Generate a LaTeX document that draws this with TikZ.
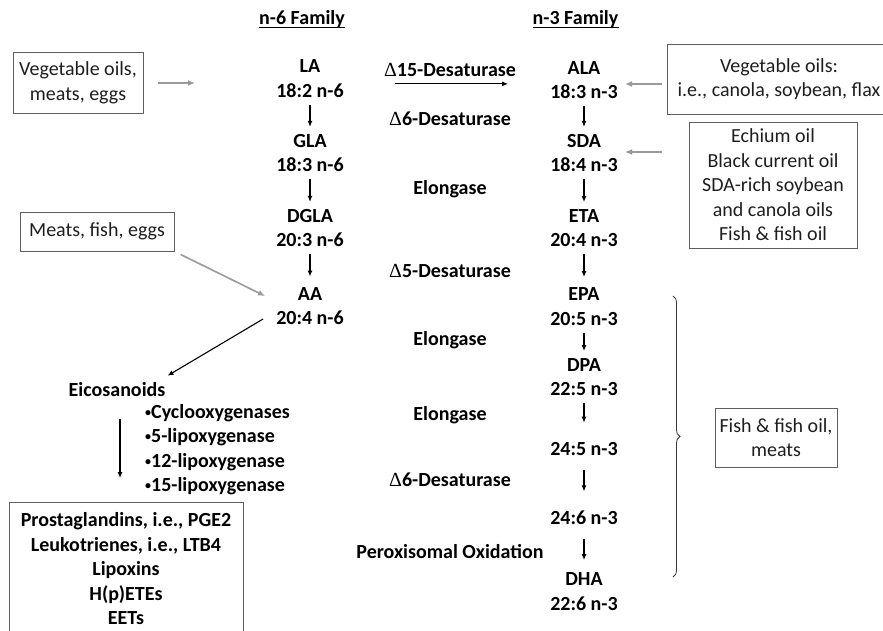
\documentclass[tikz,border=0pt]{standalone}
\usepackage{fontspec}
\setmainfont{Carlito}
\newfontfamily\dfont{Liberation Serif}
\usetikzlibrary{arrows.meta,decorations.pathreplacing}
\definecolor{boxgray}{HTML}{5E5E5E}
\definecolor{srctext}{HTML}{1E1E1E}
\definecolor{arrgray}{HTML}{9A9A9A}
\definecolor{bracegray}{HTML}{3A3A3A}
\newcommand{\fsz}{\fontsize{20pt}{24.5pt}\selectfont}
\newcommand{\dl}{{\dfont\mdseries Δ}}
\newcommand{\bul}{{\fontsize{12pt}{12pt}\selectfont\raisebox{2pt}{•}}}

\begin{document}
\begin{tikzpicture}[x=1pt,y=-1pt,>={Latex[length=6pt,width=5pt]},
  fa/.style={font=\fsz\bfseries,align=center,inner xsep=2pt,inner ysep=7pt},
  enz/.style={font=\fsz\bfseries,inner xsep=2pt,inner ysep=7pt},
  src/.style={draw=boxgray,line width=0.8pt,font=\fsz,text=srctext,align=center,inner sep=0pt},
  conv/.style={->,line width=1.1pt},
  feed/.style={-{Latex[length=7pt,width=6pt]},draw=arrgray,line width=1.6pt}]
  \clip (0,0) rectangle (883,630);
  \node[enz,anchor=base] at (302,24.5) (tsix) {n-6 Family};
  \node[enz,anchor=base] at (575.5,24.5) (tthree) {n-3 Family};
  \draw[line width=1.4pt,shorten <=2pt,shorten >=2pt] ([yshift=-3pt]tsix.base west) -- ([yshift=-3pt]tsix.base east);
  \draw[line width=1.4pt,shorten <=2pt,shorten >=2pt] ([yshift=-3pt]tthree.base west) -- ([yshift=-3pt]tthree.base east);

  \node[fa] at (310,78.5) (la) {LA\\18:2 n-6};
  \node[fa] at (310,153) (gla) {GLA\\18:3 n-6};
  \node[fa] at (310,228) (dgla) {DGLA\\20:3 n-6};
  \node[fa] at (310,306) (aa) {AA\\20:4 n-6};

  \node[fa] at (584,80) (ala) {ALA\\18:3 n-3};
  \node[fa] at (584,153) (sda) {SDA\\18:4 n-3};
  \node[fa] at (584,228) (eta) {ETA\\20:4 n-3};
  \node[fa] at (584,306.5) (epa) {EPA\\20:5 n-3};
  \node[fa] at (584,377) (dpa) {DPA\\22:5 n-3};
  \node[fa] at (584,449) (tfive) {24:5 n-3};
  \node[fa] at (584,518) (tsixb) {24:6 n-3};
  \node[fa] at (584,591.5) (dha) {DHA\\22:6 n-3};

  \node[enz] at (450,70) (dfifteen) {\dl15-Desaturase};
  \node[enz] at (450,119) (dsixa) {\dl6-Desaturase};
  \node[enz] at (450,189) (eloa) {Elongase};
  \node[enz] at (450,271) (dfive) {\dl5-Desaturase};
  \node[enz] at (450,340) (elob) {Elongase};
  \node[enz] at (450,415) (eloc) {Elongase};
  \node[enz] at (450,480) (dsixb) {\dl6-Desaturase};
  \node[enz] at (450,552) (perox) {Peroxisomal Oxidation};

  \node[src,minimum width=130pt,minimum height=61pt] at (78,83) (vegsix) {Vegetable oils,\\meats, eggs};
  \node[src,minimum width=154pt,minimum height=39pt] at (97,231.5) (meatsix) {Meats, fish, eggs};
  \node[src,minimum width=224pt,minimum height=70pt] at (779,79) (vegthree) {Vegetable oils:\\i.e., canola, soybean, flax};
  \node[src,minimum width=168pt,minimum height=126pt] at (773,185) (echium) {Echium oil\\Black current oil\\SDA-rich soybean\\and canola oils\\Fish \& fish oil};
  \node[src,minimum width=122pt,minimum height=59pt] at (776,437.5) (fishbox) {Fish \& fish oil,\\meats};

  \node[enz] at (117,390) (eico) {Eicosanoids};
  \node[font=\fsz\bfseries,align=left,anchor=west,inner sep=0pt] at (145,449.5) (enzlist) {\bul Cyclooxygenases\\\bul 5-lipoxygenase\\\bul 12-lipoxygenase\\\bul 15-lipoxygenase};
  \node[src,font=\fsz\bfseries,text=black,minimum width=234pt,anchor=north,inner ysep=10.5pt] at (126,502) (prods) {Prostaglandins, i.e., PGE2\\Leukotrienes, i.e., LTB4\\Lipoxins\\H(p)ETEs\\EETs};

  \coordinate (bracetop) at (673,296);
  \coordinate (bracebot) at (673,577);
  \draw[decorate,decoration={brace,amplitude=7pt},draw=bracegray,line width=0.8pt] (bracetop) -- (bracebot);

  \draw[conv] (la) -- (gla);
  \draw[conv] (gla) -- (dgla);
  \draw[conv,shorten >=3.5pt] (dgla) -- (aa);
  \draw[conv] (ala) -- (sda);
  \draw[conv] (sda) -- (eta);
  \draw[conv,shorten >=3.5pt] (eta) -- (epa);
  \draw[conv] (epa) -- (dpa);
  \draw[conv,shorten >=12.5pt] (dpa) -- (tfive);
  \draw[conv,shorten <=7.5pt,shorten >=12.5pt] (tfive) -- (tsixb);
  \draw[conv,shorten <=6.5pt,shorten >=5.5pt] (tsixb) -- (dha);
  \draw[conv,shorten <=13pt,shorten >=10pt] (dfifteen.south west) -- (dfifteen.south east);

  \coordinate (lain) at (195,83);
  \coordinate (aain) at (265,296);
  \coordinate (alain) at (625,84);
  \coordinate (sdain) at (625,152);
  \draw[feed,shorten <=15pt] (vegsix.east) -- (lain);
  \draw[feed,shorten <=7pt] (meatsix.south east) -- (aain);
  \draw[feed,shorten <=5pt] (vegthree.west |- alain) -- (alain);
  \draw[feed,shorten <=27pt] (echium.west |- sdain) -- (sdain);

  \draw[conv] ([xshift=-11pt,yshift=-13pt]aa.west) -- (eico.north east);
  \draw[conv,shorten <=14.5pt,shorten >=24pt] ([xshift=3pt]eico.south) -- ([xshift=3pt]eico.south |- prods.north);
\end{tikzpicture}
\end{document}
